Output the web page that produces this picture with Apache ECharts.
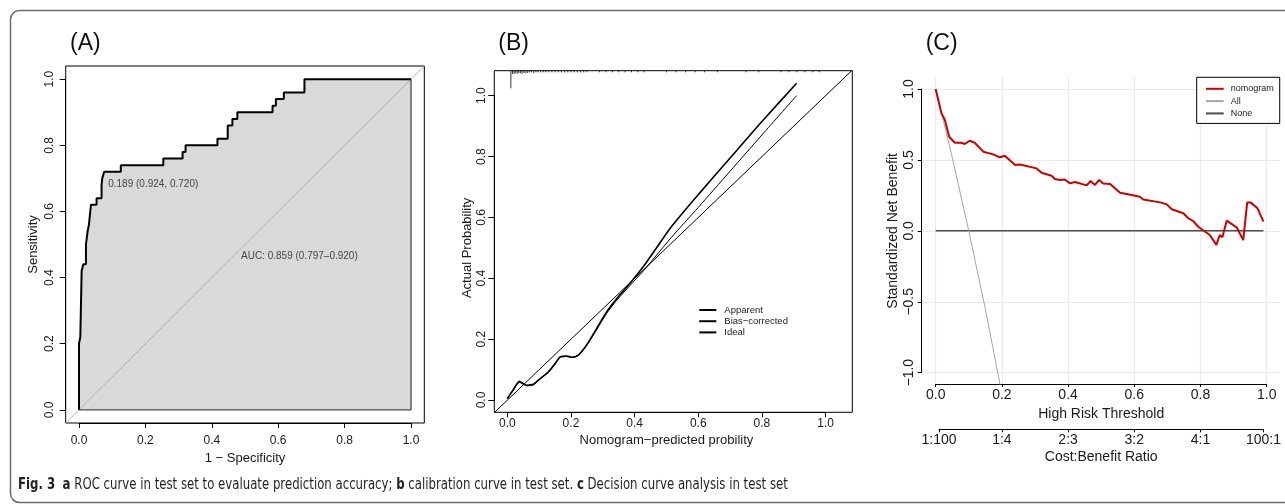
<!DOCTYPE html>
<html><head><meta charset="utf-8">
<script src="https://cdn.jsdelivr.net/npm/echarts@6/dist/echarts.min.js"></script>
<style>html,body{margin:0;padding:0;background:#fff}#c{width:1285px;height:504px}</style>
</head><body><div id="c"></div>
<script>
// ---------- Panel A: ROC curve (vertical-jump points, false positive rate / sensitivity)
const rocFpr = [0, 0, 0.004, 0.008, 0.013, 0.021, 0.026, 0.030, 0.036, 0.053, 0.068, 0.070, 0.076, 0.126, 0.254, 0.312, 0.321, 0.417, 0.448, 0.462, 0.477, 0.583, 0.593, 0.617, 0.679, 1.0];
const rocTpr = [0, 0.20, 0.22, 0.42, 0.44, 0.50, 0.54, 0.56, 0.62, 0.64, 0.68, 0.70, 0.72, 0.74, 0.76, 0.78, 0.80, 0.82, 0.86, 0.88, 0.90, 0.92, 0.94, 0.96, 1.00, 1.00];
const rocBest = { cut: '0.189', spec: 0.924, sens: 0.720 };
const rocAuc = { auc: '0.859', lo: '0.797', hi: '0.920', x: 0.5, y: 0.5 };
const probTicks = [0, 0.2, 0.4, 0.6, 0.8, 1.0];
const probTickLabels = ['0.0', '0.2', '0.4', '0.6', '0.8', '1.0'];

// ---------- Panel B: calibration curve
const calPred     = [0.0, 0.019, 0.038, 0.052, 0.061, 0.082, 0.103, 0.129, 0.150, 0.166, 0.187, 0.202, 0.223, 0.249, 0.281, 0.312, 0.344, 0.385, 0.427, 0.464, 0.516, 0.600, 0.700, 0.800, 0.909];
const calApparent = [0.005, 0.035, 0.062, 0.053, 0.049, 0.052, 0.071, 0.093, 0.120, 0.142, 0.145, 0.141, 0.148, 0.181, 0.236, 0.290, 0.334, 0.383, 0.438, 0.493, 0.570, 0.675, 0.795, 0.915, 1.041];
const calBias     = [0.005, 0.033, 0.058, 0.051, 0.047, 0.050, 0.069, 0.091, 0.118, 0.140, 0.143, 0.140, 0.147, 0.179, 0.232, 0.285, 0.328, 0.376, 0.424, 0.470, 0.535, 0.633, 0.752, 0.871, 1.000];
const rugPred  = [0.011, 0.016, 0.021, 0.026, 0.031, 0.036, 0.041, 0.046, 0.052, 0.058, 0.064, 0.070, 0.076, 0.083, 0.090, 0.097, 0.105, 0.113, 0.121, 0.130, 0.140, 0.150, 0.160, 0.170, 0.180, 0.190, 0.200, 0.210, 0.220, 0.230, 0.240, 0.250, 0.290, 0.310, 0.330, 0.350, 0.370, 0.390, 0.410, 0.430, 0.500, 0.530, 0.560, 0.590, 0.620, 0.660, 0.750, 0.790, 0.860, 0.885, 0.910, 0.935, 0.960, 0.980];
const rugCount = [22, 4, 4, 3, 4, 3, 3, 4, 3, 3, 3, 2, 2, 3, 2, 2, 2, 2, 2, 2, 2, 2, 2, 2, 2, 2, 2, 2, 2, 2, 2, 2, 2, 2, 2, 2, 2, 2, 2, 2, 2, 2, 2, 2, 2, 2, 2, 2, 2, 2, 2, 2, 2, 2];

// ---------- Panel C: decision curve
const dcaThreshold = [0, 0.018, 0.028, 0.041, 0.058, 0.078, 0.088, 0.103, 0.118, 0.144, 0.174, 0.194, 0.209, 0.240, 0.255, 0.305, 0.320, 0.350, 0.360, 0.375, 0.390, 0.406, 0.421, 0.456, 0.468, 0.481, 0.494, 0.506, 0.527, 0.557, 0.577, 0.617, 0.627, 0.678, 0.698, 0.713, 0.748, 0.763, 0.778, 0.793, 0.828, 0.848, 0.858, 0.866, 0.879, 0.909, 0.929, 0.941, 0.951, 0.972, 0.990];
const dcaNomogram  = [1.0, 0.828, 0.781, 0.663, 0.621, 0.621, 0.612, 0.635, 0.621, 0.558, 0.539, 0.518, 0.529, 0.464, 0.468, 0.440, 0.409, 0.388, 0.365, 0.358, 0.362, 0.334, 0.344, 0.320, 0.351, 0.323, 0.358, 0.334, 0.330, 0.268, 0.259, 0.240, 0.221, 0.200, 0.186, 0.151, 0.123, 0.088, 0.068, 0.028, -0.030, -0.100, -0.030, -0.047, 0.071, 0.024, -0.066, 0.200, 0.200, 0.158, 0.064];
const dcaAllThreshold = [0, 0.05, 0.10, 0.15, 0.20];
const dcaAll          = [1.0, 0.52, 0.0, -0.55, -1.15];
const dcaNoneThreshold = [0, 0.99];
const dcaNone          = [0, 0];
const nbTicks = [-1, -0.5, 0, 0.5, 1];
const nbTickLabels = ['\u22121.0', '\u22120.5', '0.0', '0.5', '1.0'];
const cbPositions = [0.0099, 0.2, 0.4, 0.6, 0.8, 0.9901];
const cbLabels = ['1:100', '1:4', '2:3', '3:2', '4:1', '100:1'];

const zip = (a, b) => a.map((v, i) => [v, b[i]]);
const FONT = "'Liberation Sans', Arial, Helvetica, sans-serif";
const CAPFONT = "'Liberation Sans Narrow', 'DejaVu Sans Condensed', 'Open Sans', sans-serif";
const TXT = '#1a1a1a';
const lab = (ticks, labels) => v => { let k = 0; ticks.forEach((t, i) => { if (Math.abs(t - v) < Math.abs(ticks[k] - v)) k = i; }); return labels[k]; };

// axis limits (R-style 4% extension)
const A = { x0: -0.04, x1: 1.04, y0: -0.04, y1: 1.04 };
const B = { x0: -0.041, x1: 1.084, y0: -0.04, y1: 1.082 };
const C = { x0: -0.042, x1: 1.04, y0: -1.082, y1: 1.085 };

const grid = [
  { left: 65.7, top: 66, width: 358.6, height: 357, show: true, borderColor: '#000', borderWidth: 1, backgroundColor: 'transparent' }, // 0 A plot
  { left: 79, top: 66, width: 332, height: 357 },          // 1 A x-axis
  { left: 65.7, top: 79.2, width: 358.6, height: 330.6 },  // 2 A y-axis
  { left: 494.3, top: 70.7, width: 358, height: 341.6, show: true, borderColor: '#000', borderWidth: 1, backgroundColor: 'transparent' }, // 3 B plot
  { left: 507.3, top: 70.7, width: 318.3, height: 341.6 }, // 4 B x-axis
  { left: 494.3, top: 95.7, width: 358, height: 304.3 },   // 5 B y-axis
  { left: 921.7, top: 77, width: 358.3, height: 307 },     // 6 C plot
  { left: 935.7, top: 77, width: 331, height: 307 },       // 7 C x-axis + vertical grid
  { left: 921.7, top: 89, width: 358.3, height: 283.7 },   // 8 C y-axis + horizontal grid
  { left: 939, top: 400, width: 324.4, height: 29.3 }      // 9 C cost:benefit axis
];

const hid = (g, min, max) => ({ gridIndex: g, type: 'value', show: false, min, max, splitLine: { show: false } });
const rAxisX = (g, name, margin, nameGap) => ({
  gridIndex: g, type: 'value', min: 0, max: 1, interval: 0.2,
  axisLine: { show: true, onZero: false, lineStyle: { color: '#000', width: 1 } },
  axisTick: { show: true, length: 5, lineStyle: { color: '#000' } },
  axisLabel: { margin, fontSize: 12, color: TXT, fontFamily: FONT, formatter: lab(probTicks, probTickLabels) },
  splitLine: { show: false },
  name, nameLocation: 'middle', nameGap, nameTextStyle: { fontSize: 13, color: TXT, fontFamily: FONT }
});
const rAxisY = (g, name, margin, nameGap) => ({
  gridIndex: g, type: 'value', min: 0, max: 1, interval: 0.2, position: 'left',
  axisLine: { show: true, onZero: false, lineStyle: { color: '#000', width: 1 } },
  axisTick: { show: true, length: 6, lineStyle: { color: '#000' } },
  axisLabel: { margin, rotate: 90, fontSize: 12, color: TXT, fontFamily: FONT, formatter: lab(probTicks, probTickLabels) },
  splitLine: { show: false },
  name, nameLocation: 'middle', nameGap, nameTextStyle: { fontSize: 13, color: TXT, fontFamily: FONT }
});

const xAxis = [
  hid(0, A.x0, A.x1),
  rAxisX(1, '1 \u2212 Specificity', 12, 28),
  hid(2, A.x0, A.x1),
  hid(3, B.x0, B.x1),
  rAxisX(4, 'Nomogram\u2212predicted probility', 5, 22),
  hid(5, B.x0, B.x1),
  hid(6, C.x0, C.x1),
  { gridIndex: 7, type: 'value', min: 0, max: 1, interval: 0.2,
    axisLine: { show: true, onZero: false, lineStyle: { color: '#000', width: 1 } },
    axisTick: { show: true, length: 3, lineStyle: { color: '#000' } },
    axisLabel: { margin: 4, fontSize: 14, color: TXT, fontFamily: FONT, formatter: lab(probTicks, probTickLabels) },
    splitLine: { show: true, lineStyle: { color: '#ebebeb', width: 1.2 } },
    name: 'High Risk Threshold', nameLocation: 'middle', nameGap: 21, nameTextStyle: { fontSize: 14, color: TXT, fontFamily: FONT } },
  hid(8, C.x0, C.x1),
  { gridIndex: 9, type: 'value', min: cbPositions[0], max: cbPositions[cbPositions.length - 1],
    axisLine: { show: true, onZero: false, lineStyle: { color: '#000', width: 1 } },
    axisTick: { show: true, length: 3, customValues: cbPositions, lineStyle: { color: '#000' } },
    axisLabel: { margin: 4, fontSize: 14, color: TXT, fontFamily: FONT, customValues: cbPositions, formatter: lab(cbPositions, cbLabels) },
    splitLine: { show: false },
    name: 'Cost:Benefit Ratio', nameLocation: 'middle', nameGap: 21, nameTextStyle: { fontSize: 14, color: TXT, fontFamily: FONT } }
];
const yAxis = [
  hid(0, A.y0, A.y1),
  hid(1, 0, 1),
  rAxisY(2, 'Sensitivity', 10, 26),
  hid(3, B.y0, B.y1),
  hid(4, 0, 1),
  rAxisY(5, 'Actual Probability', 7, 20),
  hid(6, C.y0, C.y1),
  hid(7, 0, 1),
  { gridIndex: 8, type: 'value', min: -1, max: 1, interval: 0.5, position: 'left',
    axisLine: { show: true, onZero: false, lineStyle: { color: '#000', width: 1 } },
    axisTick: { show: true, length: 4, lineStyle: { color: '#000' } },
    axisLabel: { margin: 6, rotate: 90, fontSize: 14, color: TXT, fontFamily: FONT, formatter: lab(nbTicks, nbTickLabels) },
    splitLine: { show: true, lineStyle: { color: '#ebebeb', width: 1.2 } },
    name: 'Standardized Net Benefit', nameLocation: 'middle', nameGap: 22, nameTextStyle: { fontSize: 14, color: TXT, fontFamily: FONT } },
  hid(9, 0, 1)
];

const rocPts = zip(rocFpr, rocTpr);
const line = (o) => Object.assign({ type: 'line', symbol: 'none', showSymbol: false, clip: true, silent: true, animation: false }, o);

const series = [
  // A: area under ROC
  line({ xAxisIndex: 0, yAxisIndex: 0, step: 'end', data: rocPts, lineStyle: { width: 0 }, areaStyle: { color: '#d9d9d9', opacity: 1 }, z: 1 }),
  // A: chance diagonal
  line({ xAxisIndex: 0, yAxisIndex: 0, data: [[A.x0, A.y0], [A.x1, A.y1]], lineStyle: { color: '#b0b0b0', width: 1 }, z: 2 }),
  // A: polygon edge
  line({ xAxisIndex: 0, yAxisIndex: 0, data: [[1, 1], [1, 0], [0, 0]], lineStyle: { color: '#4a4a4a', width: 1.3 }, z: 2 }),
  // A: ROC curve
  line({ xAxisIndex: 0, yAxisIndex: 0, step: 'end', data: rocPts, lineStyle: { color: '#000', width: 2 }, z: 3 }),
  // A: annotations
  { type: 'scatter', xAxisIndex: 0, yAxisIndex: 0, symbolSize: 0, silent: true, z: 4,
    data: [
      { value: [1 - rocBest.spec, rocBest.sens], label: { show: true, position: [4, 12], align: 'left', verticalAlign: 'middle', formatter: rocBest.cut + ' (' + rocBest.spec.toFixed(3) + ', ' + rocBest.sens.toFixed(3) + ')' } },
      { value: [rocAuc.x, rocAuc.y], label: { show: true, position: [-4, 11.5], align: 'left', verticalAlign: 'middle', formatter: 'AUC: ' + rocAuc.auc + ' (' + rocAuc.lo + '\u2013' + rocAuc.hi + ')' } }
    ],
    label: { fontSize: 10, color: TXT, fontFamily: FONT } },

  // B: calibration
  line({ name: 'Ideal', xAxisIndex: 3, yAxisIndex: 3, data: [[B.x0, B.x0], [B.x1, B.x1]], lineStyle: { color: '#000', width: 1 }, itemStyle: { color: '#000' } }),
  line({ name: 'Bias\u2212corrected', xAxisIndex: 3, yAxisIndex: 3, data: zip(calPred, calBias), smooth: 0.25, lineStyle: { color: '#000', width: 1 }, itemStyle: { color: '#000' } }),
  line({ name: 'Apparent', xAxisIndex: 3, yAxisIndex: 3, data: zip(calPred, calApparent), smooth: 0.25, lineStyle: { color: '#000', width: 1.6 }, itemStyle: { color: '#000' } }),
  { type: 'custom', xAxisIndex: 3, yAxisIndex: 3, silent: true, data: zip(rugPred, rugCount), clip: false,
    renderItem: (params, api) => {
      const p = api.coord([api.value(0), B.y1]);
      return { type: 'line', shape: { x1: p[0], y1: p[1], x2: p[0], y2: p[1] + api.value(1) * 0.8 }, style: { stroke: '#000', lineWidth: 0.8 } };
    } },

  // C: decision curve
  line({ name: 'None', xAxisIndex: 6, yAxisIndex: 6, data: zip(dcaNoneThreshold, dcaNone), lineStyle: { color: '#4d4d4d', width: 1.5 }, itemStyle: { color: '#000' } }),
  line({ name: 'All', xAxisIndex: 6, yAxisIndex: 6, data: zip(dcaAllThreshold, dcaAll), lineStyle: { color: '#a6a6a6', width: 1 }, itemStyle: { color: '#a6a6a6' } }),
  line({ name: 'nomogram', xAxisIndex: 6, yAxisIndex: 6, data: zip(dcaThreshold, dcaNomogram), lineStyle: { color: '#cc0000', width: 2 }, itemStyle: { color: '#cc0000' } })
];

const legend = [
  { data: ['Apparent', 'Bias\u2212corrected', 'Ideal'], orient: 'vertical', left: 698.3, top: 305, padding: 0, itemGap: 1.2,
    itemWidth: 17, itemHeight: 10, selectedMode: false, itemStyle: { opacity: 0 },
    textStyle: { fontSize: 9.5, lineHeight: 10, color: TXT, fontFamily: FONT, padding: [0, 0, 0, 3] } },
  { data: ['nomogram', 'All', 'None'], orient: 'vertical', left: 1196.7, top: 77.3, padding: [7, 6, 5.5, 8.3], itemGap: 3.3,
    itemWidth: 17.7, itemHeight: 8, selectedMode: false, itemStyle: { opacity: 0 }, borderColor: '#000', borderWidth: 1, backgroundColor: '#fff',
    textStyle: { fontSize: 9, lineHeight: 8, color: TXT, fontFamily: FONT, padding: [0, 0, 0, 2] } }
];

const graphic = [
  { type: 'rect', shape: { x: 10.5, y: 10.5, width: 1300, height: 492, r: 9 }, style: { fill: 'none', stroke: '#6d6d6d', lineWidth: 1.5 }, silent: true, z: -10 },
  { type: 'text', left: 70, top: 32, style: { text: '(A)', font: "23px " + FONT, fill: '#111' } },
  { type: 'text', left: 498.3, top: 32, style: { text: '(B)', font: "23px " + FONT, fill: '#111' } },
  { type: 'text', left: 925.7, top: 32, style: { text: '(C)', font: "23px " + FONT, fill: '#111' } },
  { type: 'text', x: 18, y: 478, scaleX: 0.87, scaleY: 1, style: {
      text: '{b|Fig. 3}  {b|a} ROC curve in test set to evaluate prediction accuracy; {b|b} calibration curve in test set. {b|c} Decision curve analysis in test set',
      fontFamily: CAPFONT, fontSize: 15, fill: '#231f20',
      rich: { b: { fontWeight: 'bold', fontFamily: CAPFONT, fontSize: 15, fill: '#231f20' } }
    } }
];

const chart = echarts.init(document.getElementById('c'), null, { renderer: 'canvas' });
chart.setOption({ animation: false, backgroundColor: '#fff', textStyle: { fontFamily: FONT }, grid, xAxis, yAxis, series, legend, graphic });
</script>
</body></html>
